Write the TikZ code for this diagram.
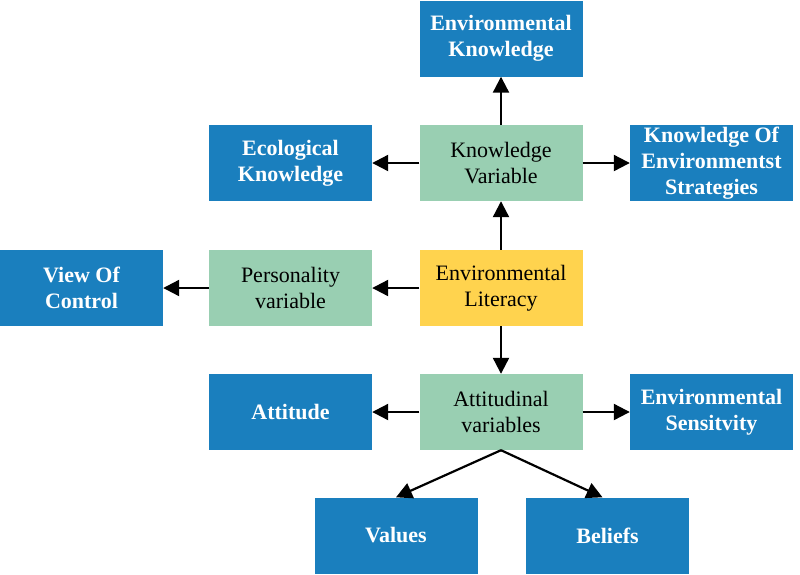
\documentclass[tikz,border=0pt]{standalone}
\usepackage{fontspec}
\setmainfont{Liberation Serif}
\usetikzlibrary{arrows.meta}
\definecolor{boxblue}{HTML}{1A7FBE}
\definecolor{boxgreen}{HTML}{99CFB2}
\definecolor{boxyellow}{HTML}{FFD34E}
\tikzset{
	box/.style={minimum width=163pt, minimum height=76pt, inner sep=2pt, align=center,
		font=\fontsize{22}{26}\selectfont},
	outer/.style={box, fill=boxblue, text=white, font=\bfseries\fontsize{22}{26}\selectfont},
	inner/.style={box, fill=boxgreen, text=black},
	core/.style={box, fill=boxyellow, text=black},
	link/.style={-{Triangle[length=16pt,width=16pt]}, line width=2.2pt}
}
\begin{document}
\begin{tikzpicture}[x=1pt, y=-1pt]
	\useasboundingbox (0,0) rectangle (800,574);
	% centre column
	\node[outer] (envknow) at (501,38.5) {Environmental\\Knowledge};
	\node[inner] (knowvar) at (501,163) {Knowledge\\Variable};
	\node[core] (literacy) at (501,288) {Environmental\\Literacy};
	\node[inner] (attvar) at (501,412) {Attitudinal\\variables};
	% side boxes
	\node[outer] (ecoknow) at (290.5,163) {Ecological\\Knowledge};
	\node[outer] (strategies) at (711.5,163) {Knowledge Of\\Environmentst\\Strategies};
	\node[inner] (persvar) at (290.5,288) {Personality\\variable};
	\node[outer] (control) at (81.5,288) {View Of\\Control};
	\node[outer] (attitude) at (290.5,412) {Attitude};
	\node[outer] (sensitivity) at (711.5,412) {Environmental\\Sensitvity};
	% bottom row
	\node[outer] (values) at (396,535.5) {Values};
	\node[outer] (beliefs) at (607.5,535.5) {Beliefs};

	\draw[link] (literacy) -- (knowvar);
	\draw[link] (knowvar) -- (envknow);
	\draw[link] (knowvar) -- (ecoknow);
	\draw[link] (knowvar) -- (strategies);
	\draw[link] (literacy) -- (persvar);
	\draw[link] (persvar) -- (control);
	\draw[link] (literacy) -- (attvar);
	\draw[link] (attvar) -- (attitude);
	\draw[link] (attvar) -- (sensitivity);
	\draw[link] (attvar.south) -- (values.north);
	\draw[link] (attvar.south) -- ([xshift=-5pt]beliefs.north);
\end{tikzpicture}
\end{document}
